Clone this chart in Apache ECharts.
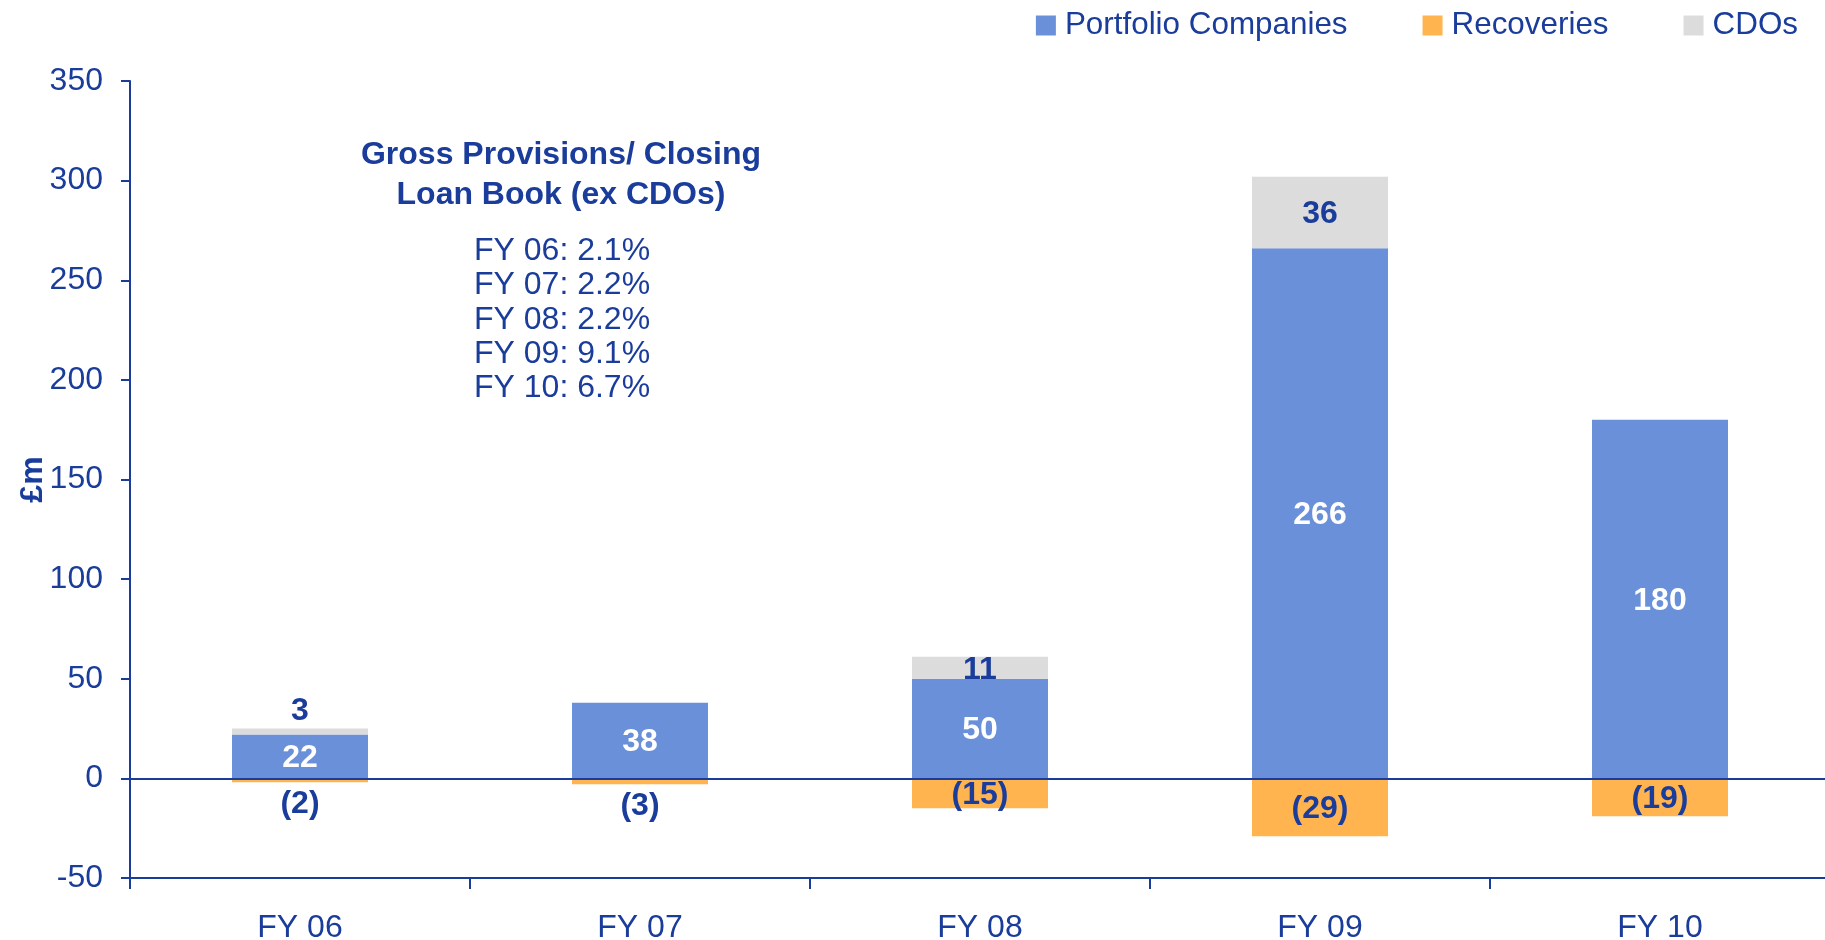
<!DOCTYPE html>
<html>
<head>
<meta charset="utf-8">
<script src="https://cdn.jsdelivr.net/npm/echarts@6/dist/echarts.min.js"></script>
<style>
html,body{margin:0;padding:0;background:#fff;}
#chart{width:1825px;height:940px;}
</style>
</head>
<body>
<div id="chart"></div>
<script>
const categories = ['FY 06', 'FY 07', 'FY 08', 'FY 09', 'FY 10'];
const portfolioCompanies = [22, 38, 50, 266, 180];
const recoveries = [-2, -3, -15, -29, -19];
const cdos = [3, null, 11, 36, null];
const seriesNames = ['Portfolio Companies', 'Recoveries', 'CDOs'];
const noteTitle = ['Gross Provisions/ Closing', 'Loan Book (ex CDOs)'];
const noteLines = ['FY 06: 2.1%', 'FY 07: 2.2%', 'FY 08: 2.2%', 'FY 09: 9.1%', 'FY 10: 6.7%'];
const yMin = -50, yMax = 350, yStep = 50;

const BLUE_TEXT = '#1a3c9a';
const FONT = 'Liberation Sans, Arial, sans-serif';
const FS = 32;

const chart = echarts.init(document.getElementById('chart'), null, {renderer: 'canvas'});

function labelled(values, smallPos, color, fmt) {
  return values.map(v => {
    if (v === null) return null;
    const small = Math.abs(v) < 5;
    return {
      value: v,
      label: {
        show: true,
        position: small ? smallPos : 'inside',
        distance: small ? (smallPos === 'top' ? 1 : 6) : 5,
        offset: small ? [0, 0] : [0, 2],
        color: color,
        fontWeight: 'bold',
        fontSize: FS,
        fontFamily: FONT,
        formatter: fmt
      }
    };
  });
}

const graphics = [];
noteTitle.forEach((t, i) => {
  graphics.push({
    type: 'text', x: 561, y: 155 + i * 40,
    style: {text: t, fill: BLUE_TEXT, font: 'bold ' + FS + 'px ' + FONT, textAlign: 'center', textVerticalAlign: 'middle'}
  });
});
noteLines.forEach((t, i) => {
  graphics.push({
    type: 'text', x: 474, y: 251 + i * 34.4,
    style: {text: t, fill: BLUE_TEXT, font: FS + 'px ' + FONT, textAlign: 'left', textVerticalAlign: 'middle'}
  });
});

chart.setOption({
  animation: false,
  backgroundColor: '#ffffff',
  textStyle: {fontFamily: FONT},
  legend: {
    data: seriesNames,
    right: 22,
    top: 5,
    icon: 'rect',
    itemWidth: 20,
    itemHeight: 20,
    itemGap: 75,
    textStyle: {fontSize: 31.4, color: BLUE_TEXT, fontFamily: FONT, padding: [0, 0, 0, 4]}
  },
  grid: {left: 130, right: -5, top: 81, bottom: 62, containLabel: false, outerBoundsMode: 'none'},
  xAxis: {
    type: 'category',
    data: categories,
    axisLine: {onZero: false, lineStyle: {color: BLUE_TEXT, width: 2}},
    axisTick: {show: true, length: 11, lineStyle: {color: BLUE_TEXT, width: 2}},
    axisLabel: {color: BLUE_TEXT, fontSize: FS, fontFamily: FONT, margin: 34}
  },
  yAxis: {
    type: 'value',
    min: yMin, max: yMax, interval: yStep,
    name: '£m',
    nameLocation: 'middle',
    nameRotate: 90,
    nameGap: 81,
    nameMoveOverlap: false,
    nameTextStyle: {color: BLUE_TEXT, fontSize: FS, fontWeight: 'bold', fontFamily: FONT},
    axisLine: {show: true, lineStyle: {color: BLUE_TEXT, width: 2}},
    axisTick: {show: true, length: 9, lineStyle: {color: BLUE_TEXT, width: 2}},
    axisLabel: {color: BLUE_TEXT, fontSize: FS, fontFamily: FONT, margin: 27},
    splitLine: {show: false}
  },
  graphic: graphics,
  series: [
    {
      name: seriesNames[0], type: 'bar', stack: 'total', barWidth: '40%',
      itemStyle: {color: '#6a90da'},
      data: labelled(portfolioCompanies, 'inside', '#ffffff', p => String(p.value)),
      markLine: {
        silent: true, symbol: ['none', 'none'],
        label: {show: false},
        lineStyle: {color: BLUE_TEXT, width: 2, type: 'solid'},
        data: [{yAxis: 0}]
      },
      z: 2
    },
    {
      name: seriesNames[1], type: 'bar', stack: 'total', barWidth: '40%',
      itemStyle: {color: '#ffb450'},
      data: labelled(recoveries, 'bottom', BLUE_TEXT, p => '(' + Math.abs(p.value) + ')')
    },
    {
      name: seriesNames[2], type: 'bar', stack: 'total', barWidth: '40%',
      itemStyle: {color: '#dcdcdc'},
      data: labelled(cdos, 'top', BLUE_TEXT, p => String(p.value))
    }
  ]
});
</script>
</body>
</html>
